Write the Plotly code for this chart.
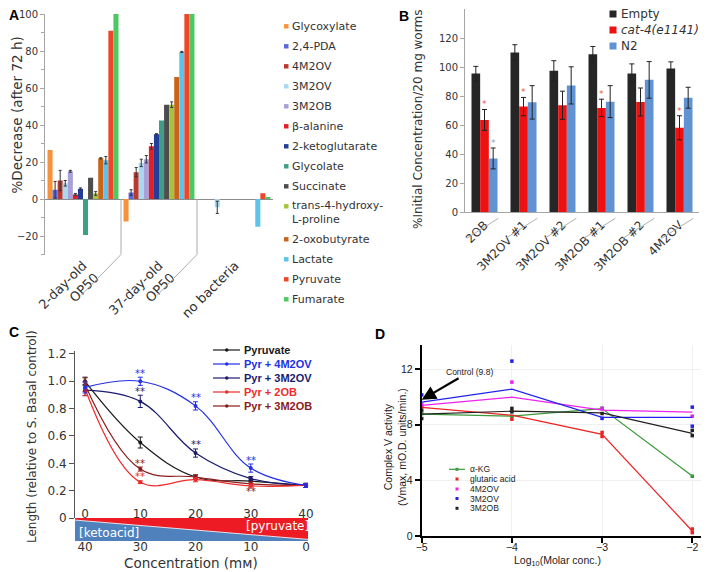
import plotly.graph_objects as go

# page is rendered with an 8px body margin: figure pixel = page pixel - 8
OFF = 8
W, H = 709 - OFF, 572 - OFF
def px(x): return (x - OFF) / W
def py(y): return 1 - (y - OFF) / H

DV = "DejaVu Sans"
LS = "Liberation Sans"

# ---------------- Panel A data ----------------
a_groups = ["2-day-old<br>OP50", "37-day-old<br>OP50", "no bacteria"]
a_names = ["Glycoxylate", "2,4-PDA", "4M2OV", "3M2OV", "3M2OB", "β-alanine",
           "2-ketoglutarate", "Glycolate", "Succinate", "trans-4-hydroxy-<br>L-proline",
           "2-oxobutyrate", "Lactate", "Pyruvate", "Fumarate"]
a_colors = ["#F7923A", "#5A68E0", "#B83A2E", "#A9D8F0", "#A8A0D6", "#E41E26",
            "#233E99", "#3F9E86", "#4D4D4D", "#A4C43C", "#C8651B", "#5CC3EC",
            "#EE4628", "#4DC862"]
a_2day = [26.5, 5, 10, 8.5, 15, 2.5, 5.5, -19.5, 11.5, 3, 22, 21, 91, 100]
a_2day_err = [0, 4.5, 5.5, 1.5, 0.5, 0.5, 0.5, 0, 0, 1, 0.3, 2, 0, 0]
a_37day = [-12.2, 3.5, 14.5, 19.5, 21.5, 28.5, 35, 42.5, 51, 51, 66, 79.5, 100, 100]
a_37day_err = [0, 1.5, 2.5, 2, 2, 1.5, 0.3, 0, 0, 1.5, 0, 0.3, 0, 0]
a_nobact = [0, 0, 0, -4.5, 0, 0, 0, 0, 0, 0, 0, -15, 3.1, 0.8]
a_nobact_err = [0, 0, 0, 3.3, 0, 0, 0, 0, 0, 0, 0, 0, 0, 0]

# ---------------- Panel B data ----------------
b_cats = ["2OB", "3M2OV #1", "3M2OV #2", "3M2OB #1", "3M2OB #2", "4M2OV"]
b_series = ["Empty", "<i>cat-4(e1141)</i>", "N2"]
b_colors = ["#262626", "#EE1111", "#6193D2"]
b_empty = [95.5, 110, 97.4, 108.8, 95.5, 99.1]
b_empty_err = [5, 5.4, 7, 5.4, 6.7, 4.5]
b_cat4 = [63.6, 72.8, 73.7, 71.9, 76, 58.2]
b_cat4_err = [7.2, 6.3, 9.7, 6, 9.6, 8.3]
b_n2 = [37.1, 75.7, 87.4, 76.2, 91.2, 78.9]
b_n2_err = [7.2, 11.5, 12.8, 11, 12.6, 7.2]
b_cat4_sig = [True, True, False, True, False, True]
b_n2_sig = [True, False, False, False, False, False]

# ---------------- Panel C data ----------------
c_pyruvate = [0, 10, 20, 30, 40]
c_ketoacid = [40, 30, 20, 10, 0]
c_names = ["Pyruvate", "Pyr + 4M2OV", "Pyr + 3M2OV", "Pyr + 2OB", "Pyr + 3M2OB"]
c_colors = ["#1A1A1A", "#2230E6", "#1C1C6E", "#EE2B2B", "#8B1C1C"]
c_pyr = [1.0, 0.552, 0.30, 0.27, 0.238]
c_pyr_err = [0.03, 0.04, 0.015, 0.015, 0.015]
c_4m2ov = [0.955, 1.0, 0.82, 0.365, 0.238]
c_4m2ov_err = [0.04, 0.03, 0.03, 0.03, 0.015]
c_3m2ov = [0.935, 0.853, 0.475, 0.288, 0.238]
c_3m2ov_err = [0.04, 0.045, 0.03, 0.015, 0.015]
c_2ob = [0.945, 0.262, 0.28, 0.235, 0.238]
c_2ob_err = [0.05, 0.01, 0.015, 0.015, 0.015]
c_3m2ob = [0.975, 0.358, 0.30, 0.25, 0.238]
c_3m2ob_err = [0.05, 0.015, 0.015, 0.015, 0.015]
# significance marks: (series index, point index, above?)
c_sig = [(1, 1, True), (1, 2, True), (1, 3, True), (2, 1, True), (2, 2, True),
         (3, 1, True), (4, 1, True), (4, 3, False)]

# ---------------- Panel D data ----------------
d_x = [-5, -4, -3, -2]
d_names = ["α-KG", "glutaric acid", "4M2OV", "3M2OV", "3M2OB"]
d_colors = ["#3A9A3A", "#EE2222", "#EE22EE", "#2222EE", "#222222"]
d_akg = [8.77, 8.62, 9.17, 4.31]
d_glut = [9.25, 8.69, 7.31, 0.36]
d_4m2ov = [9.39, 9.99, 9.05, 8.91]
d_3m2ov = [9.63, 10.56, 8.53, 8.53]
d_3m2ob = [8.77, 8.98, 8.86, 7.38]
d_akg_px = [-5, -4, -3, -2]
d_akg_py = [8.8, 8.6, 9.2, 4.3]
d_glut_px = [-5, -4, -3, -3, -2, -2]
d_glut_py = [9.3, 8.4, 7.45, 7.16, 0.5, 0.24]
d_4m2ov_px = [-5, -4, -3, -2]
d_4m2ov_py = [9.45, 11.07, 9.17, 8.62]
d_3m2ov_px = [-5, -4, -3, -2, -2]
d_3m2ov_py = [10.15, 12.58, 8.46, 9.27, 7.9]
d_3m2ob_px = [-5, -5, -4, -4, -3, -2, -2]
d_3m2ob_py = [8.45, 9.05, 9.18, 8.93, 8.81, 7.6, 7.22]
d_control = 9.8

fig = go.Figure()

# ================= Panel A =================
a_gx = list(range(len(a_groups)))
a_group_w = 0.934
a_bw = a_group_w / len(a_names)
for i, name in enumerate(a_names):
    vals = [a_2day[i], a_37day[i], a_nobact[i]]
    errs = [a_2day_err[i], a_37day_err[i], a_nobact_err[i]]
    off = -a_group_w / 2 + i * a_bw
    fig.add_trace(go.Bar(x=a_gx, y=vals, width=a_bw, offset=off, name=name,
                         marker=dict(color=a_colors[i], line=dict(width=0)),
                         xaxis="x", yaxis="y", showlegend=False))
    ex = [g + off + a_bw / 2 for g, e in zip(a_gx, errs) if e > 0]
    ey = [v for v, e in zip(vals, errs) if e > 0]
    ee = [e for e in errs if e > 0]
    if ex:
        fig.add_trace(go.Scatter(x=ex, y=ey, mode="markers",
                                 marker=dict(size=1, opacity=0),
                                 error_y=dict(type="data", array=ee, color="#333",
                                              thickness=1, width=1.5),
                                 xaxis="x", yaxis="y", showlegend=False))

# ================= Panel B =================
b_x = list(range(len(b_cats)))
b_group_w = 0.667
b_bw = b_group_w / 3
b_vals = [b_empty, b_cat4, b_n2]
b_errs = [b_empty_err, b_cat4_err, b_n2_err]
for j in range(3):
    fig.add_trace(go.Bar(x=b_x, y=b_vals[j], width=b_bw, offset=-b_group_w / 2 + j * b_bw,
                         name=b_series[j], marker=dict(color=b_colors[j], line=dict(width=0)),
                         error_y=dict(type="data", array=b_errs[j], color="#222",
                                      thickness=1, width=2.5),
                         xaxis="x2", yaxis="y2", showlegend=False))

# ================= Panel C =================
c_vals = [c_pyr, c_4m2ov, c_3m2ov, c_2ob, c_3m2ob]
c_errs = [c_pyr_err, c_4m2ov_err, c_3m2ov_err, c_2ob_err, c_3m2ob_err]
for k in [0, 2, 4, 3, 1]:
    fig.add_trace(go.Scatter(x=c_pyruvate, y=c_vals[k], mode="lines+markers",
                             name=c_names[k],
                             line=dict(color=c_colors[k], width=1.2, shape="spline", smoothing=1.1),
                             marker=dict(color=c_colors[k], size=4),
                             error_y=dict(type="data", array=c_errs[k], color=c_colors[k],
                                          thickness=1, width=2.5),
                             cliponaxis=False, xaxis="x3", yaxis="y3", showlegend=False))
# empty traces so that the concentration-band axes get drawn
fig.add_trace(go.Scatter(x=c_ketoacid, y=[None] * 5, mode="markers", xaxis="x4", yaxis="y4",
                         showlegend=False))
fig.add_trace(go.Scatter(x=c_pyruvate, y=[None] * 5, mode="markers", xaxis="x6", yaxis="y4",
                         showlegend=False))

# ================= Panel D =================
d_means = [d_akg, d_glut, d_4m2ov, d_3m2ov, d_3m2ob]
d_ptx = [d_akg_px, d_glut_px, d_4m2ov_px, d_3m2ov_px, d_3m2ob_px]
d_pty = [d_akg_py, d_glut_py, d_4m2ov_py, d_3m2ov_py, d_3m2ob_py]
for k in range(5):
    fig.add_trace(go.Scatter(x=d_x, y=d_means[k], mode="lines", name=d_names[k],
                             line=dict(color=d_colors[k], width=1.2),
                             cliponaxis=False, xaxis="x5", yaxis="y5", showlegend=False))
    fig.add_trace(go.Scatter(x=d_ptx[k], y=d_pty[k], mode="markers", name=d_names[k],
                             marker=dict(color=d_colors[k], size=3.5, symbol="square"),
                             cliponaxis=False, xaxis="x5", yaxis="y5", showlegend=False))

shapes = []
ann = []

def note(text, x, y, size, family=DV, color="#333", xanchor="center", yanchor="middle", **kw):
    ann.append(dict(text=text, xref="paper", yref="paper", x=px(x), y=py(y),
                    xanchor=xanchor, yanchor=yanchor, showarrow=False,
                    font=dict(family=family, size=size, color=color), **kw))

# ---- Panel A decorations ----
for b in [0.5, 1.5]:
    shapes.append(dict(type="line", xref="x", yref="y", x0=b, x1=b, y0=0, y1=-30,
                       line=dict(color="#ababab", width=1)))
    shapes.append(dict(type="line", xref="x", xsizemode="pixel", xanchor=b, x0=0, x1=-40,
                       yref="y domain", ysizemode="pixel", yanchor=0, y0=0, y1=-41,
                       line=dict(color="#ababab", width=1)))
# legend A
yy = 26.3
for i, name in enumerate(a_names):
    nl = name.count("<br>") + 1
    shapes.append(dict(type="rect", xref="paper", yref="paper",
                       x0=px(284), x1=px(288.5), y0=py(yy + 2.2), y1=py(yy - 2.2),
                       fillcolor=a_colors[i], line=dict(width=0)))
    note(name, 290, yy + (nl - 1) * 6.5, 11, xanchor="left", align="left")
    yy += 20 + (nl - 1) * 13
note("%Decrease (after 72 h)", 17, 115.5, 13.5, textangle=-90, borderpad=0)

# ---- Panel B decorations ----
for k in b_x:
    shapes.append(dict(type="line", xref="x2", x0=k - 0.456, x1=k + 0.354,
                       yref="y2 domain", ysizemode="pixel", yanchor=0, y0=-26, y1=-6,
                       line=dict(color="#b0b0b0", width=1)))
for k in b_x:
    if b_cat4_sig[k]:
        ann.append(dict(text="*", xref="x2", yref="y2", x=k - b_group_w / 2 + 1.5 * b_bw,
                        y=b_cat4[k] + b_cat4_err[k], xanchor="center", yanchor="middle",
                        yshift=5, showarrow=False,
                        font=dict(family=DV, size=9, color="#F05050")))
    if b_n2_sig[k]:
        ann.append(dict(text="*", xref="x2", yref="y2", x=k - b_group_w / 2 + 2.5 * b_bw,
                        y=b_n2[k] + b_n2_err[k], xanchor="center", yanchor="middle",
                        yshift=5, showarrow=False,
                        font=dict(family=DV, size=9, color="#7BA4D8")))
b_leg_y = [14, 30, 46]
for j in range(3):
    shapes.append(dict(type="rect", xref="paper", yref="paper",
                       x0=px(609.5), x1=px(616.5), y0=py(b_leg_y[j] + 3.5), y1=py(b_leg_y[j] - 3.5),
                       fillcolor=b_colors[j], line=dict(width=0)))
    note(b_series[j], 619, b_leg_y[j], 12, xanchor="left")
note("%Initial Concentration/20 mg worms", 418, 120, 12, textangle=-90)

# ---- Panel C decorations ----
for (k, p, above) in c_sig:
    v = c_vals[k][p]
    e = c_errs[k][p]
    ann.append(dict(text="**", xref="x3", yref="y3", x=c_pyruvate[p],
                    y=(v + e) if above else (v - e), xanchor="center", yanchor="middle",
                    yshift=4 if above else -6, showarrow=False,
                    font=dict(family=DV, size=10, color=c_colors[k])))
c_leg_y = [350, 364, 378, 392, 406]
for k in range(5):
    shapes.append(dict(type="line", xref="paper", yref="paper", x0=px(213), x1=px(240),
                       y0=py(c_leg_y[k]), y1=py(c_leg_y[k]), line=dict(color=c_colors[k], width=1.2)))
    shapes.append(dict(type="circle", xref="paper", yref="paper", x0=px(225), x1=px(228.5),
                       y0=py(c_leg_y[k] + 1.75), y1=py(c_leg_y[k] - 1.75),
                       fillcolor=c_colors[k], line=dict(width=0)))
    note("<b>" + c_names[k] + "</b>", 242, c_leg_y[k], 11, family=LS, color=c_colors[k],
         xanchor="left")
# concentration band
c_xr = [-1.82, 40.36]
x4r = [40 - c_xr[0], 40 - c_xr[1]]
shapes.append(dict(type="rect", xref="x4 domain", yref="y4 domain", x0=0, x1=1, y0=0, y1=1,
                   fillcolor="#ED1C24", line=dict(width=0)))
shapes.append(dict(type="path", xref="x4", yref="y4",
                   path=f"M {x4r[0]},0 L {x4r[0]},0.91 L {x4r[1]},0.07 L {x4r[1]},0 Z",
                   fillcolor="#4F81BD", line=dict(width=0)))
shapes.append(dict(type="line", xref="x4", yref="y4", x0=x4r[0], y0=0.91, x1=x4r[1], y1=0.07,
                   line=dict(color="rgba(255,255,255,0.8)", width=1)))
note("[pyruvate]", 277, 525.5, 12, color="white")
note("[ketoacid]", 109, 533, 12, color="white")
note("Length (relative to S. Basal control)", 32, 437, 12, textangle=-90)
note("Concentration (mᴍ)", 191, 572, 13.5, yanchor="bottom", borderpad=0)

# ---- Panel D decorations ----
d_leg_y = [469.3, 479, 489, 498.5, 508.3]
for k in range(5):
    if k == 0:
        shapes.append(dict(type="line", xref="paper", yref="paper", x0=px(449), x1=px(465),
                           y0=py(d_leg_y[k]), y1=py(d_leg_y[k]),
                           line=dict(color=d_colors[k], width=1.2)))
    shapes.append(dict(type="rect", xref="paper", yref="paper", x0=px(455.5), x1=px(458.5),
                       y0=py(d_leg_y[k] + 1.5), y1=py(d_leg_y[k] - 1.5),
                       fillcolor=d_colors[k], line=dict(width=0)))
    note(d_names[k], 468, d_leg_y[k], 8.5, family=LS, color="#222", xanchor="left")
ann.append(dict(text=f"Control ({d_control})", xref="x5", yref="y5", x=d_x[0], y=d_control,
                ax=48, ay=-28, showarrow=True, arrowhead=2, arrowsize=1.3, arrowwidth=2.2,
                arrowcolor="black", standoff=0, font=dict(family=LS, size=8.5, color="#222")))
note("Complex V activity<br>(Vmax, mO.D. units/min.)", 395, 447, 10.5, family=LS, color="#222",
     textangle=-90)
note("Log<sub>10</sub>(Molar conc.)", 557, 561, 10.5, family=LS, color="#222")

# panel letters
for lab, (lx, ly) in zip("ABCD", [(14, 15), (404, 16), (14, 332), (379.5, 334)]):
    note("<b>" + lab + "</b>", lx, ly, 14, family=LS, color="black", borderpad=0)

gray = "#a6a6a6"
fig.update_layout(
    width=W, height=H, autosize=False,
    margin=dict(l=0, r=0, t=0, b=0, pad=0, autoexpand=False),
    paper_bgcolor="white", plot_bgcolor="white",
    font=dict(family=DV, color="#333"),
    barmode="overlay", hovermode=False, showlegend=False,
    xaxis=dict(domain=[px(45), px(273)], range=[-0.5, 2.5], anchor="y", automargin=False,
               tickvals=a_gx, ticktext=a_groups, tickangle=-45, showline=False, ticks="",
               showgrid=False, zeroline=False, ticklabeloverflow="allow",
               tickfont=dict(family=DV, size=13, color="#333")),
    yaxis=dict(domain=[py(254.5), py(14)], range=[-30, 100], anchor="x", dtick=20, tick0=0,
               automargin=False, ticklabeloverflow="allow",
               showline=True, linecolor=gray, ticks="outside", ticklen=4, tickcolor=gray,
               minor=dict(dtick=10, ticks="outside", ticklen=3, tickcolor=gray),
               showgrid=False, zeroline=True, zerolinecolor="#8c8c8c", zerolinewidth=1,
               tickfont=dict(family=DV, size=10, color="#333")),
    xaxis2=dict(domain=[px(465), px(699)], range=[-0.5, 5.5], anchor="y2", automargin=False,
                tickvals=b_x, ticktext=b_cats, tickangle=-45, showline=True, linecolor=gray,
                ticks="", showgrid=False, zeroline=False, ticklabeloverflow="allow",
                tickfont=dict(family=DV, size=12, color="#333")),
    yaxis2=dict(domain=[py(212.3), py(9)], range=[0, 140], anchor="x2", automargin=False,
                tickvals=list(range(0, 121, 20)), ticklabeloverflow="allow",
                showline=True, linecolor=gray, ticks="outside", ticklen=4, tickcolor=gray,
                showgrid=False, zeroline=False, tickfont=dict(family=DV, size=10, color="#333")),
    xaxis3=dict(domain=[px(75), px(308)], range=c_xr, anchor="y3", automargin=False,
                showticklabels=False, ticks="", showline=False,
                showgrid=False, zeroline=False),
    yaxis3=dict(domain=[py(518), py(351.2)], range=[0, 1.22], anchor="x3", automargin=False,
                tickvals=[0, 0.2, 0.4, 0.6, 0.8, 1.0, 1.2],
                ticktext=["0", "0.2", "0.4", "0.6", "0.8", "1.0", "1.2"],
                ticklabeloverflow="allow",
                showline=True, linecolor="#555", ticks="outside", ticklen=5, tickcolor="#555",
                showgrid=False, zeroline=False, tickfont=dict(family=DV, size=12, color="#333")),
    xaxis4=dict(domain=[px(75), px(308)], range=x4r, anchor="y4", automargin=False,
                tickvals=c_ketoacid, ticks="", showline=False, showgrid=False, zeroline=False,
                ticklabelstandoff=-3, ticklabeloverflow="allow",
                tickfont=dict(family=DV, size=12, color="#333")),
    xaxis6=dict(range=c_xr, anchor="y4", overlaying="x4", side="top", automargin=False,
                tickvals=c_pyruvate, ticks="", showline=False, showgrid=False, zeroline=False,
                ticklabelstandoff=-3, ticklabeloverflow="allow",
                tickfont=dict(family=DV, size=12, color="#333")),
    yaxis4=dict(domain=[py(541), py(518)], range=[0, 1], anchor="x4", visible=False,
                automargin=False),
    xaxis5=dict(domain=[px(421.7), px(706.7)], range=[-5, -1.84], anchor="y5", automargin=False,
                tickvals=d_x, showline=True, linewidth=2, linecolor="black", ticks="outside",
                ticklen=5, tickwidth=1.5, tickcolor="black", showgrid=True, gridcolor="#f0f0f0",
                zeroline=False, ticklabelstandoff=-5, ticklabeloverflow="allow",
                tickfont=dict(family=LS, size=10.5, color="#222")),
    yaxis5=dict(domain=[py(536), py(345)], range=[0, 13.74], anchor="x5", automargin=False,
                tickvals=[0, 4, 8, 12], showline=True, linewidth=2, linecolor="black",
                ticks="outside", ticklen=5, tickwidth=1.5, tickcolor="black", showgrid=True,
                gridcolor="#f0f0f0", zeroline=False, ticklabeloverflow="allow",
                tickfont=dict(family=LS, size=10.5, color="#222")),
    shapes=shapes, annotations=ann,
)

fig.write_html("out.html")
